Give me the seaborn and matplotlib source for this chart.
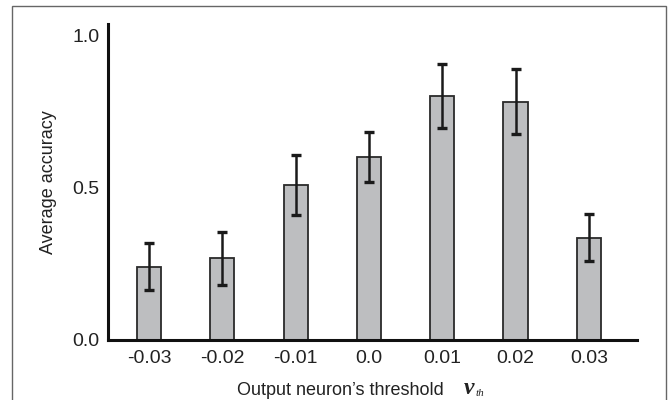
import numpy as np
import matplotlib
matplotlib.use('Agg')
import matplotlib.pyplot as plt
from matplotlib.patches import Rectangle
import seaborn as sns

thresholds = ['-0.03', '-0.02', '-0.01', '0.0', '0.01', '0.02', '0.03']
accuracy = [0.241, 0.268, 0.510, 0.602, 0.802, 0.784, 0.336]
acc_err = [0.077, 0.087, 0.098, 0.082, 0.106, 0.107, 0.077]

sns.set_style('white')
plt.rcParams['font.family'] = ['Liberation Sans', 'DejaVu Sans']

fig = plt.figure(figsize=(6.7, 4), dpi=100)
ax = fig.add_axes([0.1612, 0.15, 0.951 - 0.1612, 0.79])

sns.barplot(x=thresholds, y=accuracy, color='#bdbec0', saturation=1,
            width=0.33, edgecolor='#2a2a2a', linewidth=1.3, ax=ax)
ax.errorbar(np.arange(len(thresholds)), accuracy, yerr=acc_err, fmt='none',
            ecolor='#1a1a1a', elinewidth=1.8, capsize=3.4, capthick=2.4)

ax.set_xlim(-0.56, 6.66)
ax.set_ylim(0, 1.039)
ax.set_yticks([0.0, 0.5, 1.0])
ax.set_yticklabels(['0.0', '0.5', '1.0'])
ax.tick_params(axis='both', length=0, labelsize=14, colors='#222222')
ax.tick_params(axis='x', pad=7)
ax.tick_params(axis='y', pad=6)

for s in ['top', 'right']:
    ax.spines[s].set_visible(False)
for s in ['left', 'bottom']:
    ax.spines[s].set_linewidth(2.2)
    ax.spines[s].set_color('#111111')

ax.set_ylabel('Average accuracy', fontsize=13, color='#222222', labelpad=11)
ax.set_xlabel('Output neuron\u2019s threshold', fontsize=13, color='#222222',
              labelpad=11, x=(340 - 108) / (637 - 108))
# symbol after the axis label
ax.text((469 - 108) / (637 - 108), -0.155, 'v', transform=ax.transAxes,
        family='Liberation Serif', style='italic', weight='bold', fontsize=17,
        ha='center', va='center', color='#222222')
ax.text((480 - 108) / (637 - 108), -0.17, 'th', transform=ax.transAxes,
        family='Liberation Serif', style='italic', fontsize=8,
        ha='center', va='center', color='#222222')

# thin frame around the figure
fig.patches.append(Rectangle((12 / 670, -0.1), (666 - 12) / 670, 1.1 - 6 / 400,
                             transform=fig.transFigure, fill=False,
                             edgecolor='#666666', linewidth=1))

fig.savefig('out.png', dpi=100)
